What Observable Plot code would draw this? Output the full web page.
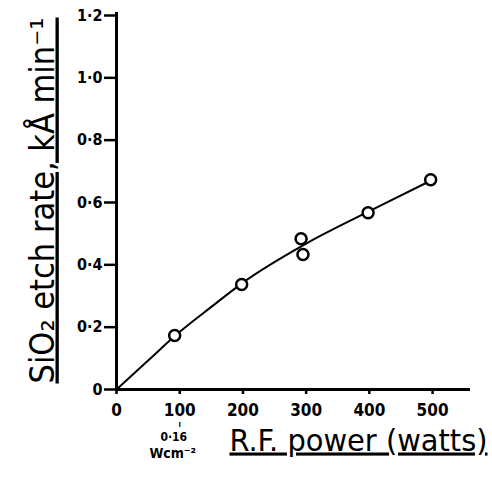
<!DOCTYPE html>
<html><head><meta charset="utf-8">
<script src="https://cdn.jsdelivr.net/npm/d3@7"></script>
<script src="https://cdn.jsdelivr.net/npm/@observablehq/plot@0.6"></script>
<style>body{margin:0;background:#fff}</style>
</head><body><div id="chart"></div>
<script>
// measured points (R.F. power in watts, SiO2 etch rate in kÅ/min)
const power = [92, 198, 292, 295, 398, 497];
const etchRate = [0.173, 0.337, 0.484, 0.433, 0.567, 0.673];
// hand-drawn fitted curve
const curvePower = [0, 50, 100, 150, 200, 300, 400, 500];
const curveRate = [0, 0.093, 0.185, 0.265, 0.343, 0.468, 0.572, 0.673];
const xTicks = [0, 100, 200, 300, 400, 500];
const yTicks = [0, 0.2, 0.4, 0.6, 0.8, 1.0, 1.2];
const yTickLabels = ["0", "0·2", "0·4", "0·6", "0·8", "1·0", "1·2"];
const yLabel = "SiO₂ etch rate, kÅ min⁻¹";
const xLabel = "R.F. power (watts)";
const densityPower = [100];
const densityLabel = ["0·16", "Wcm⁻²"];

const pts = power.map((p, i) => ({p, r: etchRate[i]}));
const curve = curvePower.map((p, i) => ({p, r: curveRate[i]}));
const font = "'DejaVu Sans Condensed', 'DejaVu Sans', sans-serif";

const chart = Plot.plot({
  width: 492, height: 484,
  marginLeft: 116, marginRight: 22, marginTop: 15, marginBottom: 95,
  style: {fontFamily: font, background: "#fff", color: "#000"},
  x: {domain: [0, 560]},
  y: {domain: [0, 1.2]},
  marks: [
    Plot.axisY({ticks: yTicks, tickFormat: d => yTickLabels[yTicks.indexOf(d)], tickSize: 12, tickPadding: 2,
      strokeWidth: 2.5, fontSize: 16, fontWeight: "bold", label: null}),
    Plot.axisX({ticks: xTicks, tickSize: 5, tickPadding: 9, strokeWidth: 2.5, fontSize: 17, fontWeight: "bold", label: null}),
    Plot.ruleX([0], {y1: 0, y2: 1.21, strokeWidth: 3}),
    Plot.ruleY([0], {x1: 0, x2: 560, strokeWidth: 3}),
    Plot.line(curve, {x: "p", y: "r", curve: "monotone-x", strokeWidth: 2}),
    Plot.dot(pts, {x: "p", y: "r", r: 5.5, stroke: "#000", strokeWidth: 2.5, fill: "#fff"}),
    Plot.text(densityPower, {x: d => d, y: 0, text: ["ı"], dy: 35, fontSize: 8, fontWeight: "bold"}),
    Plot.text(densityPower, {x: d => d, y: 0, text: [densityLabel[0]], dy: 48, dx: -6, fontSize: 12, fontWeight: "bold"}),
    Plot.text(densityPower, {x: d => d, y: 0, text: [densityLabel[1]], dy: 64, dx: -7, fontSize: 14, fontWeight: "bold"}),
    Plot.text([xLabel], {frameAnchor: "bottom-right", text: d => d, dy: 61, dx: 17, textAnchor: "end", fontSize: 31, className: "xlab"}),
    Plot.text([yLabel], {frameAnchor: "bottom-left", text: d => d, rotate: -90, dx: -63, dy: -6, textAnchor: "start", fontSize: 33, className: "ylab"})
  ]
});
d3.select(chart).selectAll(".xlab text").attr("text-decoration", "underline").attr("textLength", 258).attr("lengthAdjust", "spacingAndGlyphs");
d3.select(chart).selectAll(".ylab text").attr("text-decoration", "underline").attr("textLength", 366).attr("lengthAdjust", "spacingAndGlyphs");
document.getElementById("chart").appendChild(chart);
</script>
</body></html>
